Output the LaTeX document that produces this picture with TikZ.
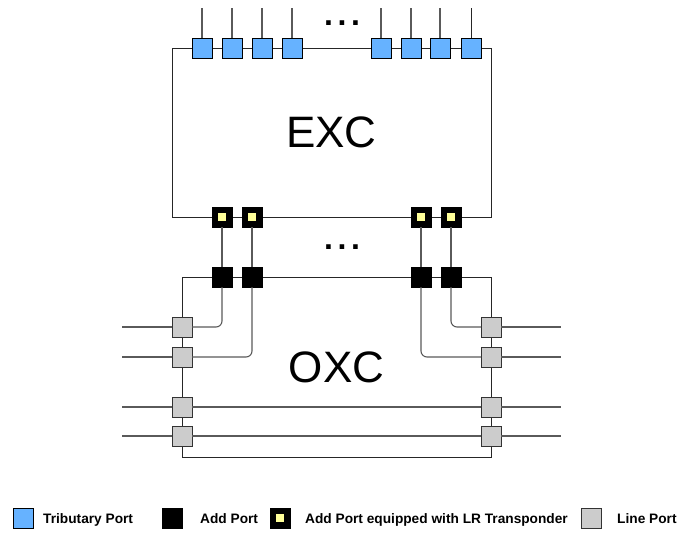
\documentclass[tikz,border=0pt]{standalone}
\usepackage{fontspec}
\setmainfont{Liberation Sans}
\definecolor{tribblue}{RGB}{102,178,255}
\definecolor{lryellow}{RGB}{255,255,153}
\definecolor{portgray}{RGB}{204,204,204}
\definecolor{conngray}{RGB}{90,90,90}
\tikzset{
  port/.style={draw=black, line width=0.8pt, minimum size=20pt, inner sep=0pt, outer sep=0pt},
  trib/.style={port, fill=tribblue},
  addp/.style={port, fill=black},
  lrp/.style={port, fill=black, path picture={\fill[lryellow] ([xshift=-4pt,yshift=-4pt]path picture bounding box.center) rectangle ++(8pt,8pt);}},
  linep/.style={port, fill=portgray, draw=black!80},
  conn/.style={draw=conngray, line width=1.1pt},
  boxline/.style={draw=black!85, line width=1pt},
  bigtext/.style={font=\fontsize{44}{44}\selectfont},
  legtext/.style={font=\fontsize{13.7}{14}\selectfont\bfseries, anchor=base west, inner sep=0pt},
  dots/.style={font=\fontsize{32}{32}\selectfont\bfseries, anchor=base, inner sep=0pt}
}
\begin{document}
\begin{tikzpicture}[x=1pt,y=-1pt]
\useasboundingbox[fill=white] (0,0) rectangle (680,533);
% boxes
\node[boxline, minimum width=319pt, minimum height=169pt, inner sep=0pt, bigtext] (exc) at (331.5,132.5) {EXC};
\node[boxline, minimum width=309pt, minimum height=180pt, inner sep=0pt, bigtext] (oxc) at (336.5,367) {OXC};
% tributary ports
\foreach \i/\x in {1/202,2/232,3/262,4/292,5/381,6/411,7/440,8/471}{
  \node[trib] (t\i) at (\x,48) {};
  \coordinate (tt\i) at (\x,8);
}
% LR add ports (EXC) and add ports (OXC)
\foreach \i/\x in {1/222,2/252,3/421,4/451}{
  \node[lrp] (e\i) at (\x,217) {};
  \node[addp] (a\i) at (\x,277) {};
}
% line ports
\foreach \i/\y in {1/327,2/357,3/407,4/436}{
  \node[linep] (L\i) at (182,\y) {};
  \node[linep] (R\i) at (491,\y) {};
  \coordinate (li\i) at (122,\y);
  \coordinate (ro\i) at (561,\y);
}
% dots
\node[dots] (dtop) at (342,25.5) {.\kern4.6pt.\kern4.6pt.};
\node[dots] (dmid) at (342,249.5) {.\kern4.6pt.\kern4.6pt.};
% connectors
\foreach \i in {1,...,7}{ \draw[conn] (tt\i) -- (t\i); }
\draw[boxline] (tt8) -- (t8);
\foreach \i in {1,...,4}{
  \draw[conn] (e\i) -- (a\i);
  \draw[conn] (li\i) -- (L\i);
  \draw[conn] (R\i) -- (ro\i);
}
\draw[conn] (L3) -- (R3);
\draw[conn] (L4) -- (R4);
\draw[conn, rounded corners=6pt] (a1.south) |- (L1.east);
\draw[conn, rounded corners=6pt] (a2.south) |- (L2.east);
\draw[conn, rounded corners=6pt] (a3.south) |- (R2.west);
\draw[conn, rounded corners=6pt] (a4.south) |- (R1.west);
% legend
\node[trib] (lg1) at (23,518) {};
\node[legtext] (lt1) at (43,523) {Tributary Port};
\node[addp] (lg2) at (172,518) {};
\node[legtext] (lt2) at (200,523) {Add Port};
\node[lrp] (lg3) at (280,518) {};
\node[legtext] (lt3) at (305,523) {Add Port equipped with LR Transponder};
\node[linep] (lg4) at (591,518) {};
\node[legtext] (lt4) at (617,523) {Line Port};
\end{tikzpicture}
\end{document}
